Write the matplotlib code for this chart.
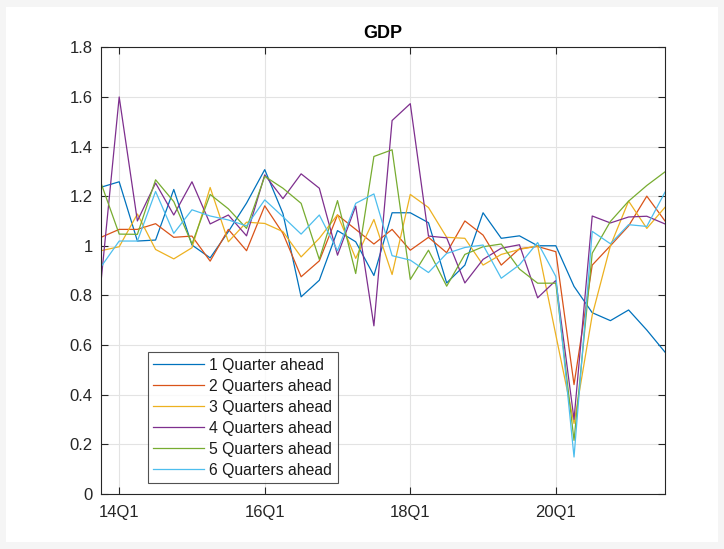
import matplotlib.pyplot as plt
import numpy as np
from matplotlib.patches import Rectangle

plt.rcParams['font.family'] = ['Liberation Sans', 'DejaVu Sans']

# quarters from 13Q4 to 21Q3, index 0 = 14Q1
quarters = np.arange(-1, 31)
tick_pos = [0, 8, 16, 24]
tick_labels = ['14Q1', '16Q1', '18Q1', '20Q1']

ahead_1 = [1.236, 1.258, 1.019, 1.023, 1.227, 1.003, 0.951, 1.057, 1.172, 1.307,
           1.13, 0.794, 0.861, 1.061, 1.016, 0.88, 1.133, 1.133, 1.093, 0.85,
           0.922, 1.133, 1.03, 1.04, 1.0, 1.0, 0.836, 0.73, 0.698, 0.741,
           0.66, 0.571]
ahead_2 = [1.034, 1.066, 1.066, 1.089, 1.034, 1.039, 0.938, 1.066, 0.98, 1.161,
           1.05, 0.875, 0.939, 1.124, 1.066, 1.007, 1.066, 0.982, 1.034, 0.972,
           1.1, 1.043, 0.922, 0.988, 0.997, 0.976, 0.44, 0.922, 1.0, 1.08,
           1.2, 1.1]
ahead_3 = [0.98, 0.996, 1.128, 0.985, 0.947, 0.992, 1.235, 1.016, 1.095, 1.09,
           1.057, 0.955, 1.03, 1.125, 0.949, 1.106, 0.884, 1.207, 1.154, 1.034,
           1.03, 0.922, 0.965, 0.985, 1.0, 0.64, 0.283, 0.72, 1.0, 1.18,
           1.07, 1.155]
ahead_4 = [0.854, 1.6, 1.1, 1.253, 1.124, 1.258, 1.088, 1.124, 1.04, 1.286,
           1.19, 1.29, 1.232, 0.962, 1.16, 0.677, 1.505, 1.573, 1.039, 1.032,
           0.85, 0.945, 0.99, 1.004, 0.79, 0.86, 0.3, 1.12, 1.092, 1.116,
           1.119, 1.088]
ahead_5 = [1.253, 1.047, 1.046, 1.266, 1.178, 1.007, 1.207, 1.149, 1.07, 1.28,
           1.232, 1.171, 0.945, 1.182, 0.888, 1.36, 1.387, 0.864, 0.982, 0.837,
           0.965, 0.996, 1.007, 0.906, 0.849, 0.849, 0.215, 0.97, 1.098, 1.18,
           1.243, 1.298]
ahead_6 = [0.915, 1.019, 1.019, 1.219, 1.05, 1.145, 1.12, 1.104, 1.08, 1.185,
           1.117, 1.047, 1.124, 0.98, 1.171, 1.209, 0.96, 0.942, 0.892, 0.969,
           0.993, 1.003, 0.869, 0.923, 1.013, 0.876, 0.148, 1.058, 1.008, 1.085,
           1.078, 1.216]

series = [ahead_1, ahead_2, ahead_3, ahead_4, ahead_5, ahead_6]
names = ['1 Quarter ahead', '2 Quarters ahead', '3 Quarters ahead',
         '4 Quarters ahead', '5 Quarters ahead', '6 Quarters ahead']
colors = ['#0072BD', '#D95319', '#EDB120', '#7E2F8E', '#77AC30', '#4DBEEE']

fig = plt.figure(figsize=(7.24, 5.49), dpi=100)
fig.patch.set_facecolor('#f5f5f5')
# white panel behind the axes
fig.patches.append(Rectangle((6 / 724, 7 / 549), 712 / 724, 535 / 549,
                             transform=fig.transFigure, facecolor='white',
                             edgecolor='none', zorder=-1))

ax = fig.add_axes([0.1395, 0.1007, 0.779, 0.813])
ax.set_zorder(1)
for vals, name, c in zip(series, names, colors):
    ax.plot(quarters, vals, color=c, linewidth=0.9, label=name)

ax.set_xlim(-1, 30)
ax.set_ylim(0, 1.8)
ax.set_xticks(tick_pos)
ax.set_xticklabels(tick_labels)
ax.set_yticks(np.arange(0, 1.81, 0.2))
ax.set_yticklabels(['0', '0.2', '0.4', '0.6', '0.8', '1', '1.2', '1.4', '1.6', '1.8'])
ax.grid(True, color='#e3e3e3', linewidth=0.8)
ax.set_axisbelow(True)
ax.tick_params(direction='in', length=5, width=0.8, colors='#262626',
               labelsize=12, top=True, right=True)
ax.tick_params(axis='x', pad=8)
ax.tick_params(axis='y', pad=6)
for s in ax.spines.values():
    s.set_color('#262626')
    s.set_linewidth(0.8)

ax.set_title('GDP', fontsize=13, fontweight='bold', color='black', pad=7)

leg = ax.legend(loc='lower left', bbox_to_anchor=(0.083, 0.024), fontsize=11.3,
                frameon=True, fancybox=False, handlelength=3.2,
                handletextpad=0.35, labelspacing=0.38, borderpad=0.35,
                borderaxespad=0)
leg.get_frame().set_edgecolor('#262626')
leg.get_frame().set_linewidth(0.8)
for t in leg.get_texts():
    t.set_color('#1a1a1a')

fig.savefig('out.png', dpi=100, facecolor=fig.get_facecolor())
